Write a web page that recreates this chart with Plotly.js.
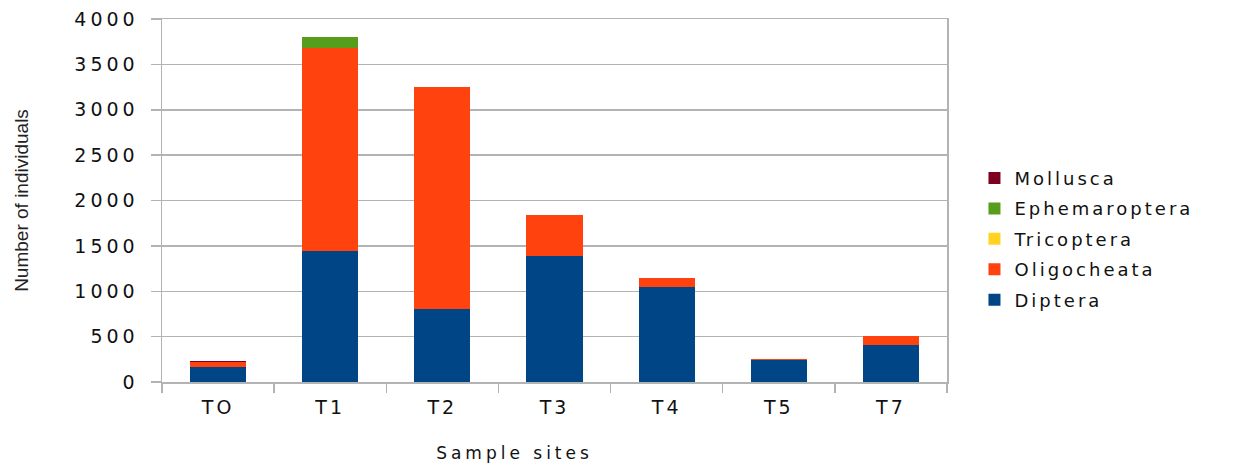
<!DOCTYPE html>
<html>
<head>
<meta charset="utf-8">
<script src="https://cdn.plot.ly/plotly-3.0.1.min.js"></script>
<style>
  html, body { margin: 0; padding: 0; background: #fff; }
  #chart { width: 1244px; height: 466px; }
  .ytick text { letter-spacing: 4px; }
  .xtick text { letter-spacing: 3px; }
  .legendtext { letter-spacing: 3px; }
  .xtitle { letter-spacing: 4px; transform: translateX(-40px); }
</style>
</head>
<body>
<div id="chart"></div>
<script>
// Sample sites along the stream
const sites = ["TO", "T1", "T2", "T3", "T4", "T5", "T7"];

// Number of individuals per taxon at each site
const diptera       = [170, 1440, 800, 1390, 1050, 245, 410];
const oligocheata   = [45, 2240, 2450, 450, 95, 10, 100];
const tricoptera    = [0, 0, 0, 0, 0, 0, 0];
const ephemaroptera = [0, 120, 0, 0, 0, 0, 0];
const mollusca      = [20, 0, 0, 0, 0, 0, 0];

// Stacked bottom to top; the legend lists them top to bottom
const taxa = [
  { name: "Diptera",       values: diptera,       color: "#004586" },
  { name: "Oligocheata",   values: oligocheata,   color: "#ff420e" },
  { name: "Tricoptera",    values: tricoptera,    color: "#ffd320" },
  { name: "Ephemaroptera", values: ephemaroptera, color: "#579d1c" },
  { name: "Mollusca",      values: mollusca,      color: "#7e0021" }
];

const traces = taxa.map((t, i) => ({
  type: "bar",
  name: t.name,
  x: sites,
  y: t.values,
  legendgroup: t.name,
  legendrank: taxa.length - i,
  marker: { color: t.color, line: { width: 0 } },
  hoverinfo: "x+y+name"
}));

const grid = "#b3b3b3";
const tickFont = { family: "DejaVu Sans", size: 19, color: "#111" };

const layout = {
  width: 1244,
  height: 466,
  margin: { l: 162, r: 297, t: 19, b: 84 },
  paper_bgcolor: "#fff",
  plot_bgcolor: "#fff",
  barmode: "stack",
  bargap: 0.5,
  showlegend: true,
  legend: {
    x: 1.035, xanchor: "left",
    y: 0.612, yanchor: "top",
    traceorder: "grouped",
    tracegroupgap: 4,
    font: { family: "DejaVu Sans", size: 18, color: "#111" },
    bgcolor: "rgba(0,0,0,0)"
  },
  xaxis: {
    type: "category",
    tickfont: tickFont,
    showline: true, linecolor: grid, linewidth: 1.5, mirror: true,
    ticks: "outside", tickson: "boundaries", ticklen: 9, tickcolor: grid, tickwidth: 1.5,
    ticklabelstandoff: 8,
    showgrid: false,
    title: { text: "Sample sites", standoff: 30,
             font: { family: "DejaVu Sans", size: 17, color: "#111" } }
  },
  yaxis: {
    range: [0, 4000],
    tickvals: [0, 500, 1000, 1500, 2000, 2500, 3000, 3500, 4000],
    tickfont: tickFont,
    showline: true, linecolor: grid, linewidth: 1.5, mirror: true,
    ticks: "outside", ticklen: 10, tickcolor: grid, tickwidth: 1.5,
    ticklabelstandoff: 8,
    showgrid: true, gridcolor: grid, gridwidth: 1.5,
    zeroline: false,
    title: { text: "Number of individuals", standoff: 40,
             font: { family: "Liberation Sans", size: 19, color: "#222" } }
  }
};

Plotly.newPlot("chart", traces, layout, { displayModeBar: false, staticPlot: true });
</script>
</body>
</html>
